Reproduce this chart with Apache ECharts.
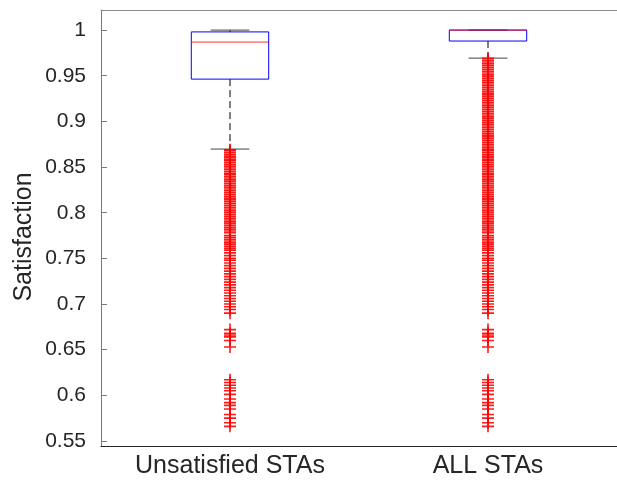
<!DOCTYPE html>
<html>
<head>
<meta charset="utf-8">
<script src="https://cdn.jsdelivr.net/npm/echarts@6/dist/echarts.min.js"></script>
<style>
  html, body { margin: 0; padding: 0; background: #fff; }
  #chart { width: 617px; height: 483px; }
</style>
</head>
<body>
<div id="chart"></div>
<script>
// Group names along the x axis
const categories = ['Unsatisfied STAs', 'ALL STAs'];

// Box statistics per group: [lower whisker, Q1, median, Q3, upper whisker]
const boxStats = [
  [0.8697, 0.9463, 0.9869, 0.9980, 1.0000],
  [0.9693, 0.9880, 1.0000, 1.0000, 1.0000]
];

// Outliers of the unsatisfied group
const outliersUnsatisfied = [
  0.869, 0.868, 0.866, 0.864, 0.862, 0.860, 0.858, 0.857, 0.855, 0.853,
  0.851, 0.849, 0.847, 0.845, 0.843, 0.842, 0.840, 0.838, 0.836, 0.834,
  0.832, 0.830, 0.828, 0.826, 0.824, 0.822, 0.820, 0.818, 0.816, 0.814,
  0.812, 0.810, 0.808, 0.806, 0.804, 0.802, 0.800, 0.798, 0.796, 0.794,
  0.792, 0.790, 0.788, 0.786, 0.784, 0.782, 0.780, 0.778, 0.775, 0.773,
  0.771, 0.769, 0.767, 0.765, 0.763, 0.761, 0.759, 0.756, 0.753, 0.750,
  0.748, 0.745, 0.742, 0.739, 0.736, 0.733, 0.730, 0.727, 0.724, 0.721,
  0.718, 0.715, 0.712, 0.709, 0.706, 0.703, 0.700, 0.697, 0.694, 0.690,
  0.672, 0.668, 0.666, 0.664, 0.660, 0.653,
  0.617, 0.614, 0.611, 0.608, 0.605, 0.601, 0.596, 0.592, 0.589, 0.585,
  0.579, 0.575, 0.570, 0.566
];

// Outliers of the full population (above the unsatisfied range)
const outliersAllUpper = [
  0.969, 0.967, 0.965, 0.963, 0.961, 0.959, 0.957, 0.955, 0.953, 0.951,
  0.949, 0.947, 0.945, 0.943, 0.941, 0.939, 0.937, 0.935, 0.933, 0.931,
  0.929, 0.927, 0.925, 0.923, 0.921, 0.919, 0.917, 0.915, 0.913, 0.911,
  0.909, 0.907, 0.905, 0.903, 0.901, 0.899, 0.897, 0.895, 0.893, 0.891,
  0.889, 0.887, 0.885, 0.883, 0.881, 0.879, 0.877, 0.875, 0.873, 0.871
];
const outliersAll = outliersAllUpper.concat(outliersUnsatisfied);

const yMin = 0.5445;
const yMax = 1.022;
const yTitle = 'Satisfaction';

const textColor = '#262626';
const fontFamily = '"Liberation Sans", Arial, Helvetica, sans-serif';

// Filled plus sign used as outlier marker
const plusPath = 'path://M5.2,0h1.6v5.2h5.2v1.6h-5.2v5.2h-1.6v-5.2h-5.2v-1.6h5.2z';

const outlierData = [];
outliersUnsatisfied.forEach(v => outlierData.push([0, v]));
outliersAll.forEach(v => outlierData.push([1, v]));

const boxData = boxStats.map((s, i) => [i].concat(s));

function renderBox(params, api) {
  const idx = api.value(0);
  const lo = api.coord([idx, api.value(1)]);
  const q1 = api.coord([idx, api.value(2)]);
  const md = api.coord([idx, api.value(3)]);
  const q3 = api.coord([idx, api.value(4)]);
  const hi = api.coord([idx, api.value(5)]);
  const band = api.size([1, 0])[0];
  const bw = band * 0.3;
  const cw = bw * 0.5;
  const cx = lo[0];
  return {
    type: 'group',
    children: [
      { type: 'line', shape: { x1: cx, y1: q3[1], x2: cx, y2: hi[1] },
        style: { stroke: '#000', lineWidth: 1, lineDash: [7, 4] } },
      { type: 'line', shape: { x1: cx, y1: q1[1], x2: cx, y2: lo[1] },
        style: { stroke: '#000', lineWidth: 1, lineDash: [7, 4] } },
      { type: 'line', shape: { x1: cx - cw / 2, y1: hi[1], x2: cx + cw / 2, y2: hi[1] },
        style: { stroke: '#444', lineWidth: 1 } },
      { type: 'line', shape: { x1: cx - cw / 2, y1: lo[1], x2: cx + cw / 2, y2: lo[1] },
        style: { stroke: '#444', lineWidth: 1 } },
      { type: 'rect', shape: { x: cx - bw / 2, y: q3[1], width: bw, height: q1[1] - q3[1] },
        style: { fill: 'none', stroke: '#0000ff', lineWidth: 1 } },
      { type: 'line', shape: { x1: cx - bw / 2, y1: md[1], x2: cx + bw / 2, y2: md[1] },
        style: { stroke: '#ff0000', lineWidth: 1, opacity: 0.8 } }
    ]
  };
}

const chart = echarts.init(document.getElementById('chart'), null, { renderer: 'canvas' });
chart.setOption({
  animation: false,
  backgroundColor: '#fff',
  grid: { left: 101, right: -7, top: 10, bottom: 37 },
  graphic: [
    {
      type: 'text',
      x: 24,
      y: 237,
      rotation: Math.PI / 2,
      style: {
        text: yTitle,
        fill: textColor,
        font: '25px ' + fontFamily,
        align: 'center',
        verticalAlign: 'middle'
      },
      silent: true
    }
  ],
  xAxis: [
    {
      type: 'category',
      data: categories,
      boundaryGap: true,
      position: 'bottom',
      axisLine: { lineStyle: { color: '#262626', width: 1 } },
      axisTick: { inside: true, length: 5, alignWithLabel: true, lineStyle: { color: '#262626' } },
      axisLabel: { color: textColor, fontFamily: fontFamily, fontSize: 25, margin: 8 },
      splitLine: { show: false }
    },
    {
      type: 'category',
      data: categories,
      boundaryGap: true,
      position: 'top',
      axisLine: { lineStyle: { color: '#8a8a8a', width: 1 } },
      axisTick: { inside: true, length: 5, alignWithLabel: true, lineStyle: { color: '#262626' } },
      axisLabel: { show: false },
      splitLine: { show: false }
    }
  ],
  yAxis: {
    type: 'value',
    min: yMin,
    max: yMax,
    splitNumber: 10,
    axisLine: { show: true, lineStyle: { color: '#7a7a7a', width: 1 } },
    axisTick: { show: true, inside: true, length: 6, lineStyle: { color: '#7a7a7a' } },
    axisLabel: { color: textColor, fontFamily: fontFamily, fontSize: 21, margin: 15,
                 showMinLabel: false, showMaxLabel: false },
    splitLine: { show: false }
  },
  series: [
    {
      type: 'custom',
      xAxisIndex: 0,
      renderItem: renderBox,
      data: boxData,
      encode: { x: 0, y: [1, 2, 3, 4, 5] },
      silent: true,
      z: 2
    },
    {
      type: 'scatter',
      xAxisIndex: 0,
      data: outlierData,
      symbol: plusPath,
      symbolSize: 12,
      itemStyle: { color: '#ff0000', opacity: 0.9 },
      silent: true,
      z: 3
    }
  ]
});
</script>
</body>
</html>
